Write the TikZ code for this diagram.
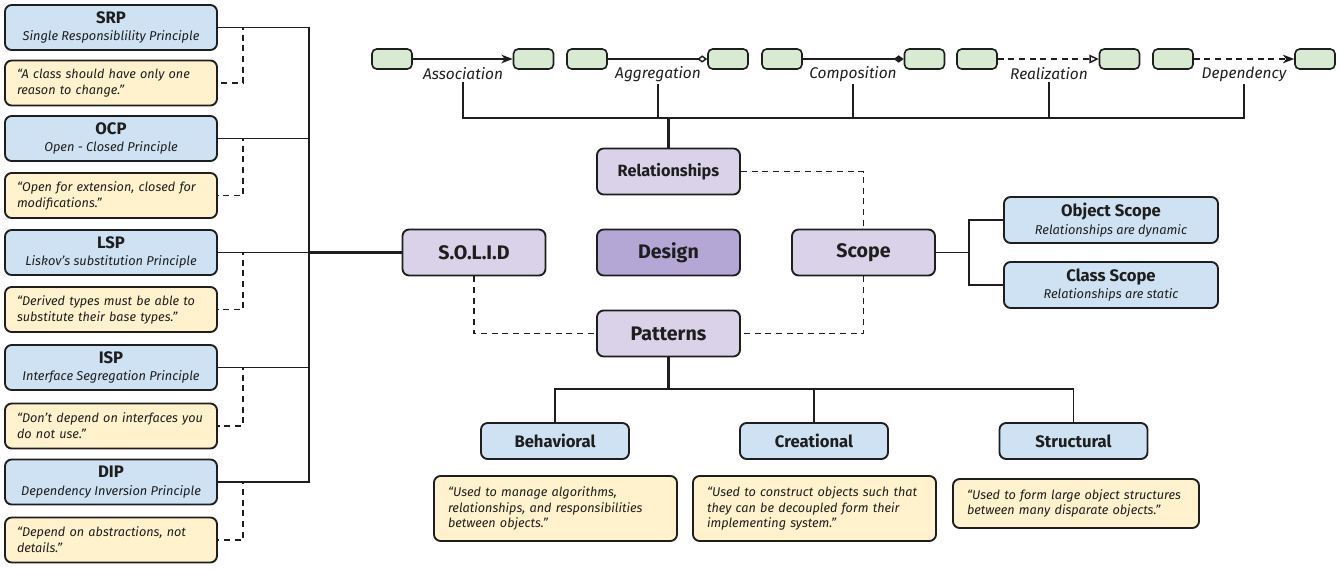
\documentclass[tikz,border=0pt]{standalone}
\usepackage{fontspec}
\setmainfont{Fira Sans}
\usetikzlibrary{arrows.meta}

\definecolor{boxblue}{HTML}{CFE2F3}
\definecolor{boxyellow}{HTML}{FFF2CC}
\definecolor{boxgreen}{HTML}{D9EAD3}
\definecolor{boxpurple}{HTML}{D9D2E9}
\definecolor{boxdesign}{HTML}{B4A7D6}
\definecolor{ink}{HTML}{1E1E1E}

\tikzset{
  box/.style={draw=ink,line width=1.4pt,rounded corners=5pt,inner sep=0pt,text=ink},
  princ/.style={box,fill=boxblue,align=center,minimum width=159pt,minimum height=33.75pt},
  quote/.style={box,fill=boxyellow,align=left,inner xsep=9pt,text width=141pt,minimum height=33.75pt,
    font=\fontsize{9.5}{12}\selectfont\itshape},
  core/.style={box,fill=boxpurple,align=center,minimum width=107.25pt,minimum height=34.5pt,
    font=\fontsize{14.7}{17}\selectfont\bfseries},
  scopebox/.style={box,fill=boxblue,align=center,minimum width=160.5pt,minimum height=34.5pt},
  kind/.style={box,fill=boxblue,minimum width=111pt,minimum height=27pt,
    font=\fontsize{12.5}{14}\selectfont\bfseries},
  kindquote/.style={box,fill=boxyellow,align=left,inner xsep=10.5pt,
    font=\fontsize{9.5}{11.6}\selectfont\itshape},
  cls/.style={box,fill=boxgreen,line width=1.2pt,rounded corners=3.5pt,minimum width=30pt,minimum height=15pt},
  rellabel/.style={inner sep=1.5pt,text=ink,font=\fontsize{11.6}{13}\selectfont\itshape},
  wire/.style={draw=ink,line width=1.1pt},
  trunk/.style={draw=ink,line width=2pt},
  dashwire/.style={draw=ink,line width=1.1pt,dash pattern=on 4.5pt off 3.5pt}
}
\newcommand{\ptitle}[2]{{\fontsize{12.5}{14}\selectfont\bfseries #1}\\[1pt]{\fontsize{9.6}{11}\selectfont\itshape #2}}

\begin{document}
\begin{tikzpicture}[x=0.75pt,y=-0.75pt]
\useasboundingbox (0,0) rectangle (1343,569);

% principles
\node[princ] (srp) at (111,27.5) {\ptitle{SRP}{Single Responsiblility Principle}};
\node[quote] (srpq) at (111,83) {“A class should have only one\\reason to change.”};
\node[princ] (ocp) at (111,138.5) {\ptitle{OCP}{Open - Closed Principle}};
\node[quote] (ocpq) at (111,195.5) {“Open for extension, closed for\\modifications.”};
\node[princ] (lsp) at (111,252.5) {\ptitle{LSP}{Liskov’s substitution Principle}};
\node[quote] (lspq) at (111,309.5) {“Derived types must be able to\\substitute their base types.”};
\node[princ] (isp) at (111,367.5) {\ptitle{ISP}{Interface Segregation Principle}};
\node[quote] (ispq) at (111,426) {“Don’t depend on interfaces you\\do not use.”};
\node[princ] (dip) at (111,482) {\ptitle{DIP}{Dependency Inversion Principle}};
\node[quote] (dipq) at (111,540) {“Depend on abstractions, not\\details.”};

% centre
\node[core] (solid) at (474,252.5) {S.O.L.I.D};
\node[core,fill=boxdesign] (design) at (668.5,252.5) {Design};
\node[core,font=\fontsize{12.2}{14}\selectfont\bfseries] (rel) at (668.5,171.5) {Relationships};
\node[core] (pat) at (668.5,333.5) {Patterns};
\node[core] (scope) at (863.5,252.5) {Scope};

% scope
\node[scopebox] (objs) at (1111,220) {{\fontsize{12.5}{14}\selectfont\bfseries Object Scope}\\[1pt]{\fontsize{9.6}{11}\selectfont\itshape Relationships are dynamic}};
\node[scopebox] (clss) at (1111,285) {{\fontsize{12.5}{14}\selectfont\bfseries Class Scope}\\[1pt]{\fontsize{9.6}{11}\selectfont\itshape Relationships are static}};

% pattern kinds
\node[kind] (beh) at (555,441) {Behavioral};
\node[kind] (cre) at (814,441) {Creational};
\node[kind] (str) at (1073.5,441) {Structural};
\node[kindquote,minimum width=182.25pt,minimum height=48.75pt,text width=161.25pt] (behq) at (555.5,508.5)
  {“Used to manage algorithms,\\relationships, and responsibilities\\between objects.”};
\node[kindquote,minimum width=182.25pt,minimum height=48.75pt,text width=161.25pt] (creq) at (814.5,508.5)
  {“Used to construct objects such that\\they can be decoupled form their\\implementing system.”};
\node[kindquote,minimum width=184.5pt,minimum height=36.75pt,text width=163.5pt] (strq) at (1076,503.5)
  {“Used to form large object structures\\between many disparate objects.”};

% relationship kinds
\node[cls] (as1) at (392,59) {};
\node[cls] (as2) at (533.5,59) {};
\node[cls] (ag1) at (587,59) {};
\node[cls] (ag2) at (728,59) {};
\node[cls] (co1) at (782,59) {};
\node[cls] (co2) at (924.5,59) {};
\node[cls] (re1) at (977,59) {};
\node[cls] (re2) at (1119.5,59) {};
\node[cls] (de1) at (1173,59) {};
\node[cls] (de2) at (1315,59) {};
\node[rellabel] (las) at (463,74) {Association};
\node[rellabel] (lag) at (658,74) {Aggregation};
\node[rellabel] (lco) at (853,74) {Composition};
\node[rellabel] (lre) at (1049,74) {Realization};
\node[rellabel] (lde) at (1244,74) {Dependency};

\draw[wire,-{Stealth[length=8.5pt,width=6.5pt,inset=2.5pt]}] (as1) -- (as2);
\draw[wire,-{Diamond[open,length=7.5pt,width=5.5pt]}] (ag1) -- (ag2);
\draw[wire,-{Diamond[length=7.5pt,width=5.5pt]}] (co1) -- (co2);
\draw[dashwire,-{Triangle[open,length=7pt,width=6.5pt]}] (re1) -- (re2);
\draw[dashwire,-{Stealth[length=8.5pt,width=6.5pt,inset=2.5pt]}] (de1) -- (de2);

% tree to relationships
\coordinate (relj) at (668.5,118);
\draw[trunk] (rel.north) -- (relj);
\draw[wire] (relj) -| (las.south);
\draw[wire] (relj) -| (lag.south);
\draw[wire] (relj) -| (lco.south);
\draw[wire] (relj) -| (lre.south);
\draw[wire] (relj) -| (lde.south);

% tree to principles
\coordinate (solj) at (309,252.5);
\draw[trunk] (solid.west) -- (solj);
\draw[wire] (solj) |- (srp.east);
\draw[wire] (solj) |- (ocp.east);
\draw[wire] (solj) -- (lsp.east);
\draw[wire] (solj) |- (isp.east);
\draw[wire] (solj) |- (dip.east);
\draw[dashwire] (srp.east) -- ++(25,0) |- (srpq.east);
\draw[dashwire] (ocp.east) -- ++(25,0) |- (ocpq.east);
\draw[dashwire] (lsp.east) -- ++(25,0) |- (lspq.east);
\draw[dashwire] (isp.east) -- ++(25,0) |- (ispq.east);
\draw[dashwire] (dip.east) -- ++(25,0) |- (dipq.east);

% tree to scopes
\coordinate (scj) at (969,252.5);
\draw[wire] (scope.east) -- (scj);
\draw[wire] (scj) |- (objs.west);
\draw[wire] (scj) |- (clss.west);

% tree to pattern kinds
\coordinate (patj) at (668.5,389);
\draw[trunk] (pat.south) -- (patj);
\draw[wire] (patj) -| (beh.north);
\draw[wire] (patj) -| (cre.north);
\draw[wire] (patj) -| (str.north);

% links between the four areas
\draw[dashwire] (rel.east) -| (scope.north);
\draw[dashwire] (scope.south) |- (pat.east);
\draw[dashwire] (solid.south) |- (pat.west);
\end{tikzpicture}
\end{document}
